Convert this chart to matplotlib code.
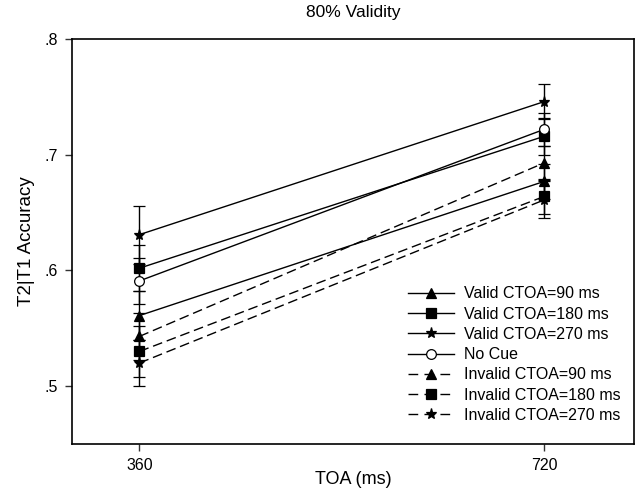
import matplotlib
matplotlib.use("Agg")
import matplotlib.pyplot as plt
from matplotlib.lines import Line2D

plt.rcParams['font.family'] = ['Liberation Sans', 'DejaVu Sans']

toa = [360, 720]

labels = ["Valid CTOA=90 ms", "Valid CTOA=180 ms", "Valid CTOA=270 ms", "No Cue",
          "Invalid CTOA=90 ms", "Invalid CTOA=180 ms", "Invalid CTOA=270 ms"]
valid90 = [0.561, 0.677]
valid180 = [0.602, 0.716]
valid270 = [0.631, 0.746]
no_cue = [0.591, 0.722]
invalid90 = [0.543, 0.693]
invalid180 = [0.530, 0.664]
invalid270 = [0.520, 0.661]

err_valid90 = [0.021, 0.015]
err_valid180 = [0.020, 0.016]
err_valid270 = [0.025, 0.015]
err_no_cue = [0.020, 0.014]
err_invalid90 = [0.020, 0.015]
err_invalid180 = [0.022, 0.015]
err_invalid270 = [0.020, 0.016]

series = [valid90, valid180, valid270, no_cue, invalid90, invalid180, invalid270]
errors = [err_valid90, err_valid180, err_valid270, err_no_cue,
          err_invalid90, err_invalid180, err_invalid270]
markers = ['^', 's', '*', 'o', '^', 's', '*']
msizes = [7, 6.5, 8, 7, 7, 6.5, 8]
dashed = [False, False, False, False, True, True, True]

fig = plt.figure(figsize=(6.43, 4.90), dpi=100)
ax = fig.add_axes([0.112, 0.094, 0.874, 0.826])

handles = []
for vals, err, lab, mk, ms, dsh in zip(series, errors, labels, markers, msizes, dashed):
    face = 'white' if mk == 'o' else 'black'
    ls = (0, (7, 3.5)) if dsh else '-'
    ax.errorbar(toa, vals, yerr=err, color='black', lw=1, ecolor='black', elinewidth=1,
                capsize=4.5, capthick=1, marker=mk, markersize=ms, markerfacecolor=face,
                markeredgecolor='black', markeredgewidth=0.9, linestyle=ls)
    handles.append(Line2D([], [], color='black', lw=1, linestyle=(0, (7, 4.5)) if dsh else '-',
                          marker=mk, markersize=ms, markerfacecolor=face,
                          markeredgecolor='black', markeredgewidth=0.9, label=lab))

ax.set_xlim(300, 800)
ax.set_ylim(0.45, 0.8)
ax.set_xticks(toa)
ax.set_xticklabels(["360", "720"])
ax.set_yticks([0.5, 0.6, 0.7, 0.8])
ax.set_yticklabels([".5", ".6", ".7", ".8"])
ax.tick_params(direction='out', length=5, width=1, labelsize=11.5, color='#333333')
ax.tick_params(axis='x', pad=5)
ax.tick_params(axis='y', pad=5)
for s in ax.spines.values():
    s.set_linewidth(1.2)

ax.set_xlabel("TOA (ms)", fontsize=13, labelpad=-1)
ax.set_ylabel("T2|T1 Accuracy", fontsize=13.5, labelpad=7)
ax.set_title("80% Validity", fontsize=12.5, pad=16)

ax.legend(handles=handles, loc='upper left', bbox_to_anchor=(0.622, 0.432), bbox_transform=fig.transFigure,
          frameon=False, fontsize=11.5, handlelength=2.9, handletextpad=0.6,
          labelspacing=0.33, borderpad=0, numpoints=1)

fig.savefig("out.png", dpi=100)
